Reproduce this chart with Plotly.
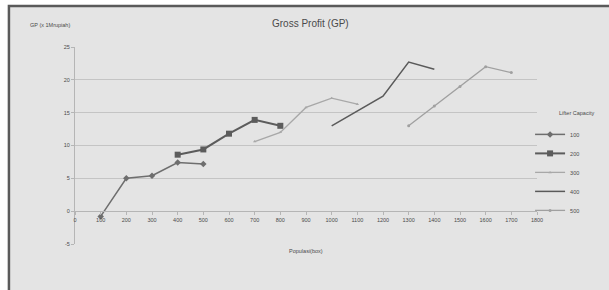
import plotly.graph_objects as go

# Data
x_ticks = [0, 100, 200, 300, 400, 500, 600, 700, 800, 900, 1000, 1100, 1200, 1300, 1400, 1500, 1600, 1700, 1800]
y_ticks = [-5, 0, 5, 10, 15, 20, 25]

cap100_x = [100, 200, 300, 400, 500]
cap100_y = [-0.8, 5.0, 5.4, 7.4, 7.2]
cap200_x = [400, 500, 600, 700, 800]
cap200_y = [8.6, 9.4, 11.8, 13.9, 13.0]
cap300_x = [700, 800, 900, 1000, 1100]
cap300_y = [10.6, 12.0, 15.8, 17.2, 16.3]
cap400_x = [1000, 1100, 1200, 1300, 1400]
cap400_y = [13.0, 15.3, 17.5, 22.7, 21.6]
cap500_x = [1300, 1400, 1500, 1600, 1700]
cap500_y = [13.0, 16.0, 19.0, 22.0, 21.1]

FONT = "Liberation Sans"

fig = go.Figure()
series = [
    ("100", cap100_x, cap100_y, "#6e6e6e", 1.5, dict(symbol="diamond", size=5)),
    ("200", cap200_x, cap200_y, "#5c5c5c", 2, dict(symbol="square", size=6)),
    ("300", cap300_x, cap300_y, "#a8a8a8", 1.3, dict(symbol="triangle-up", size=3)),
    ("400", cap400_x, cap400_y, "#5a5a5a", 1.5, None),
    ("500", cap500_x, cap500_y, "#a0a0a0", 1.3, dict(symbol="circle", size=3)),
]
for name, xs, ys, col, w, mk in series:
    if mk:
        fig.add_trace(go.Scatter(x=xs, y=ys, name=name, mode="lines+markers",
                                 line=dict(color=col, width=w),
                                 marker=dict(color=col, **mk)))
    else:
        fig.add_trace(go.Scatter(x=xs, y=ys, name=name, mode="lines",
                                 line=dict(color=col, width=w)))

fig.update_layout(
    width=609, height=290,
    margin=dict(l=75, r=72, t=47, b=46, autoexpand=False),
    paper_bgcolor="white",
    plot_bgcolor="rgba(0,0,0,0)",
    font=dict(family=FONT, size=5.5, color="#4a4a4a"),
    showlegend=True,
    legend=dict(x=0.985, y=0.63, xanchor="left", yanchor="top",
                font=dict(size=5.5, color="#4a4a4a"), bgcolor="rgba(0,0,0,0)",
                itemwidth=30),
    xaxis=dict(range=[0, 1800], tickvals=x_ticks, ticktext=[str(v) for v in x_ticks],
               anchor="free", position=1/6, showline=True, linecolor="#b5b5b5", linewidth=1,
               ticks="outside", ticklen=3, tickcolor="#b5b5b5", showgrid=False, zeroline=False,
               tickfont=dict(size=5.5, color="#4a4a4a"), automargin=False),
    yaxis=dict(range=[-5, 25], tickvals=y_ticks, ticktext=[str(v) for v in y_ticks],
               showline=True, linecolor="#b5b5b5", linewidth=1, ticks="outside", ticklen=3,
               tickcolor="#b5b5b5", showgrid=True, gridcolor="#c4c4c4", gridwidth=1,
               zeroline=False, tickfont=dict(size=5.5, color="#4a4a4a"), automargin=False),
    shapes=[dict(type="rect", xref="paper", yref="paper", x0=-0.143, x1=1.17, y0=-0.3, y1=1.208,
                 fillcolor="#e4e4e4", line=dict(color="#5a5a5a", width=2.5), layer="below")],
    annotations=[
        dict(text="Gross Profit (GP)", xref="paper", yref="paper", x=(310-75)/462, y=(244-24)/197,
             showarrow=False, font=dict(size=10, color="#4a4a4a"), xanchor="center", yanchor="middle"),
        dict(text="GP (x 1Mrupiah)", xref="paper", yref="paper", x=(28-75)/462, y=(244-25)/197,
             showarrow=False, font=dict(size=5.5, color="#4a4a4a"), xanchor="left", yanchor="middle"),
        dict(text="Populasi(box)", xref="paper", yref="paper", x=(306-75)/462, y=(244-251)/197,
             showarrow=False, font=dict(size=5.5, color="#4a4a4a"), xanchor="center", yanchor="middle"),
        dict(text="Lifter Capacity", xref="paper", yref="paper", x=(576-75)/462, y=(244-113)/197,
             showarrow=False, font=dict(size=5.5, color="#4a4a4a"), xanchor="center", yanchor="middle"),
    ],
)

fig.write_html("out.html", config={"displayModeBar": False},
               post_script="document.body.style.margin='0px';document.body.style.overflow='hidden';")
